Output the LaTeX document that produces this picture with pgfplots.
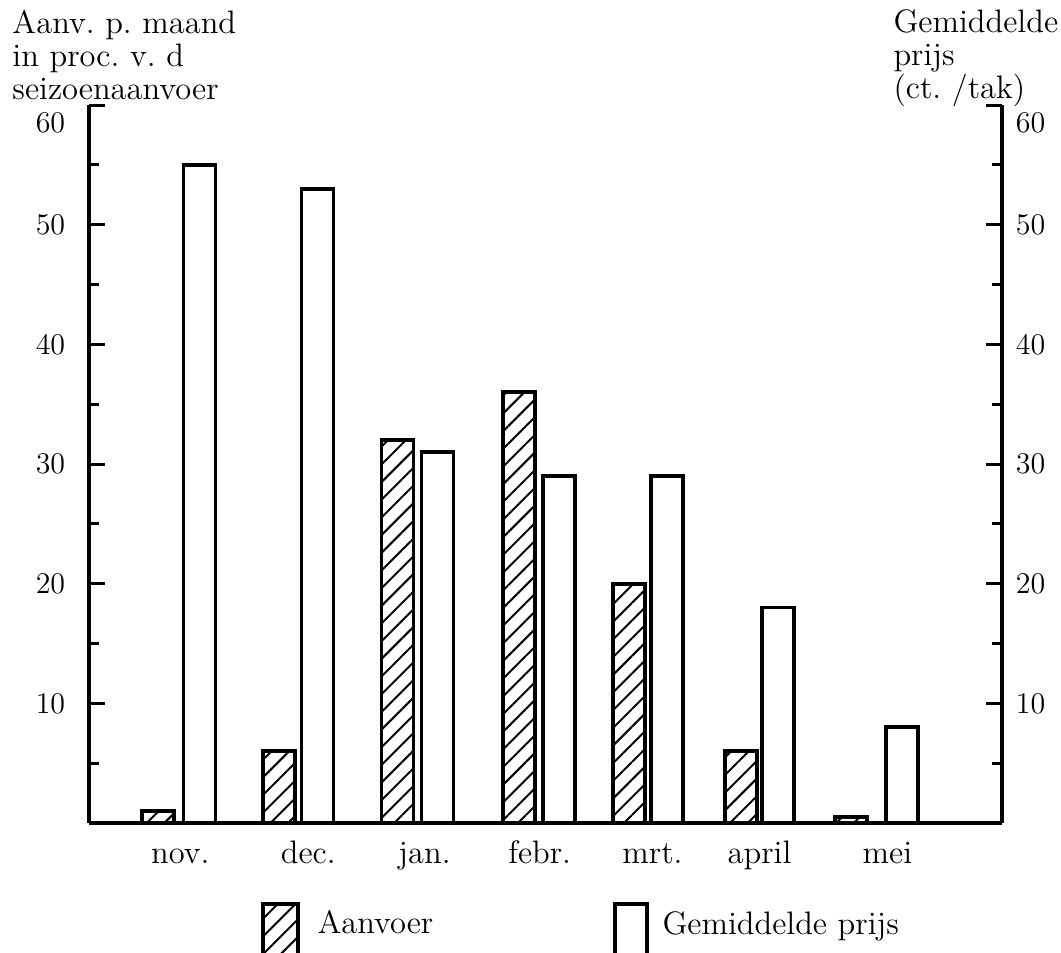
\documentclass[border=0pt]{standalone}
\usepackage{pgfplots}
\pgfplotsset{compat=1.18}
\usetikzlibrary{patterns.meta}
\frenchspacing

\begin{document}
\begin{tikzpicture}
\tikzset{hatchfill/.style={draw=black, line width=1.5pt,
    pattern={Lines[angle=45,distance=5pt,line width=0.8pt]}}}
\pgfplotsset{
  common/.style={
    width=365.2pt, height=287.2pt, scale only axis,
    xmin=-0.765, xmax=7.085, ymin=0, ymax=60,
    ybar, bar width=0.275,
    tick align=inside,
    major tick length=6.4pt, minor tick length=4pt,
    ytick={10,20,30,40,50}, minor ytick={5,15,25,35,45,55},
    extra y ticks={60}, extra y tick style={yticklabel style={yshift=-7pt}},
    ytick style={black, line width=1.2pt},
    xtick style={draw=none},
    axis line style={line width=1.5pt},
    tick label style={font=\fontsize{12.5}{15}\selectfont},
    clip=false,
  },
}

% linker as: aanvoer
\begin{axis}[common, name=main,
  axis x line*=bottom, axis y line*=left,
  xtick={0.02,1.12,2.12,3.11,4.08,5.0,6.1},
  xticklabels={nov.,dec.,jan.,febr.,mrt.,april,mei},
  xticklabel style={anchor=base, yshift=-16pt, font=\fontsize{13}{16}\selectfont},
  yticklabel style={xshift=-6pt},
]
\addplot[hatchfill, bar shift=0pt] coordinates {(-0.172,1) (0.868,6) (1.887,32) (2.932,36) (3.878,20) (4.841,6) (5.787,0.5)};
\node[anchor=south west, align=left, inner sep=0pt, font=\fontsize{13}{13.2}\selectfont]
  at (rel axis cs:0,1) [xshift=-30.8pt, yshift=2pt] {Aanv. p. maand\\in proc. v. d\\seizoenaanvoer};
\end{axis}

% rechter as: prijs
\begin{axis}[common,
  axis y line*=right, axis x line=none,
  yticklabel style={xshift=2pt},
]
\addplot[draw=black, fill=white, line width=1.5pt, bar shift=0pt]
  coordinates {(0.185,55) (1.199,53) (2.231,31) (3.276,29) (4.205,29) (5.159,18) (6.225,8)};
\node[anchor=south west, align=left, inner sep=0pt, font=\fontsize{13}{13.2}\selectfont]
  at (rel axis cs:1,1) [xshift=-43.6pt, yshift=-1pt] {Gemiddelde\\prijs\\(ct. /tak)};
\end{axis}

% legenda
\draw[hatchfill] ([xshift=69.6pt, yshift=-32.4pt]main.south west) rectangle ++(14pt,-24pt);
\draw[line width=1.5pt] ([xshift=210.4pt, yshift=-32.4pt]main.south west) rectangle ++(12.8pt,-24pt);
\node[anchor=base west, inner sep=0pt, font=\fontsize{13}{16}\selectfont]
  at ([xshift=91.2pt, yshift=-44pt]main.south west) {Aanvoer};
\node[anchor=base west, inner sep=0pt, font=\fontsize{13}{16}\selectfont]
  at ([xshift=229.2pt, yshift=-44.4pt]main.south west) {Gemiddelde prijs};

\pgfresetboundingbox
\path[use as bounding box] ([xshift=-35.6pt, yshift=-51.6pt]main.south west) rectangle ++(424.4pt,380.8pt);
\end{tikzpicture}
\end{document}
